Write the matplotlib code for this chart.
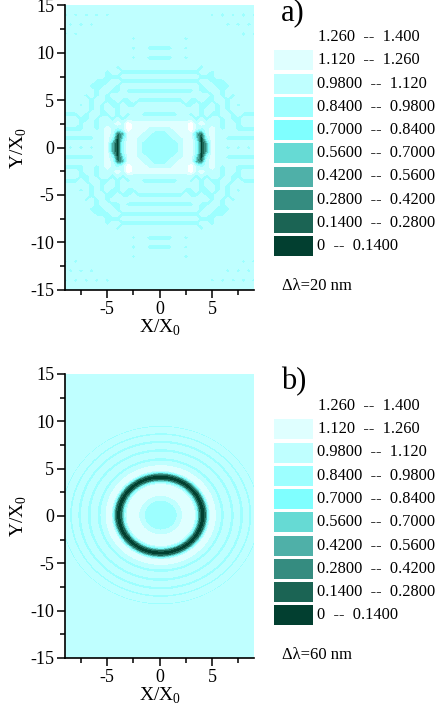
import matplotlib
matplotlib.use('Agg')
import matplotlib.pyplot as plt
from matplotlib.patches import Rectangle
import numpy as np

plt.rcParams['font.family'] = ['Liberation Serif', 'DejaVu Serif']
plt.rcParams['mathtext.fontset'] = 'custom'
plt.rcParams['mathtext.rm'] = 'Liberation Serif'
plt.rcParams['axes.unicode_minus'] = False

levels = [0, 0.14, 0.28, 0.42, 0.56, 0.70, 0.84, 0.98, 1.12, 1.26, 1.40]
colors = ['#023F30', '#1B6454', '#358C80', '#4FB0A8', '#66DAD4',
          '#7FFFFF', '#9DFFFF', '#BFFFFF', '#DFFFFF', '#FFFFFF']
legend_labels = ['1.260  --  1.400', '1.120  --  1.260', '0.9800  --  1.120',
                 '0.8400  --  0.9800', '0.7000  --  0.8400', '0.5600  --  0.7000',
                 '0.4200  --  0.5600', '0.2800  --  0.4200', '0.1400  --  0.2800',
                 '0  --  0.1400']

# panel a, one quadrant, one digit = colour band
# rows are y = 0, 0.5 ... 15, columns are x = 0, 0.5 ... 9
quadrant_a = [
    '6666788603877676767',
    '6666788603877777777',
    '6667788406877666666',
    '6677888317877777777',
    '7778889767876776666',
    '8888889787776776777',
    '7777777676776766777',
    '6666776767667767666',
    '7777777767767677777',
    '7777766766767676777',
    '6666676676677677777',
    '7777777777676767777',
    '6666666766776777777',
    '7777777767766677777',
    '6666666677666777777',
    '7777777766677777777',
    '6666666677677777777',
    '7777777767777777777',
    '7777777777777777777',
    '6667767777777777777',
    '7777777777777777777',
    '6667767777777777777',
    '7777777777777777777',
    '7777767777777777777',
    '7777777777777777676',
    '7777777777777777777',
    '7777777777777676767',
    '7777777777777777777',
    '7777777777676767676',
    '7777777777777777777',
    '7777777777777777777',
]
band_values = [0.03, 0.21, 0.35, 0.49, 0.63, 0.77, 0.90, 1.05, 1.20, 1.33]

# panel b, radial profile read along the ring radius
radius_b = [0, 1.5, 1.65, 2.0, 2.2, 3.15, 3.45, 3.7, 4.0, 4.3, 4.55, 4.75, 5.0, 5.15,
            5.35, 5.65, 5.75, 6.0, 6.1, 6.6, 6.7, 6.95, 7.05, 7.5, 7.6, 7.85, 7.95,
            8.35, 8.45, 8.65, 8.75, 9.2, 9.3, 9.45, 9.55, 18]
value_b = [0.90, 0.90, 1.05, 1.05, 1.20, 1.20, 0.80, 0.20, 0.03, 0.20, 0.80, 1.15, 1.22, 1.15,
           1.05, 1.05, 0.90, 0.90, 1.05, 1.05, 0.90, 0.90, 1.05, 1.05, 0.92, 0.92, 1.05,
           1.05, 0.94, 0.94, 1.05, 1.05, 0.96, 0.96, 1.05, 1.05]

field_a = np.array([[band_values[int(c)] for c in row] for row in quadrant_a])
field_a = np.hstack([field_a[:, :0:-1], field_a])
field_a = np.vstack([field_a[:0:-1], field_a])
xa = np.arange(-9, 9.5, 0.5)
ya = np.arange(-15, 15.5, 0.5)

theta = np.linspace(0, 2*np.pi, 361)
rr, tt = np.meshgrid(radius_b, theta)
xb = 0.1 + rr*np.cos(tt)
yb = 0.1 + rr*np.sin(tt)
field_b = np.tile(value_b, (len(theta), 1))

W, H = 439, 711
fig = plt.figure(figsize=(W/100, H/100), dpi=100)


def panel(top, bottom):
    ax = fig.add_axes([65.3/W, 1 - bottom/H, (254 - 65.3)/W, (bottom - top)/H])
    ax.set_xlim(-9, 9)
    ax.set_ylim(-15, 15)
    ax.set_xticks([-5, 0, 5])
    ax.set_xticks([-7.5, -2.5, 2.5, 7.5], minor=True)
    ax.set_yticks([-15, -10, -5, 0, 5, 10, 15])
    ax.set_yticks(np.arange(-12.5, 15, 5), minor=True)
    ax.tick_params(which='major', length=6, width=1.1, labelsize=13, pad=2)
    ax.tick_params(which='minor', length=3.5, width=1.1)
    ax.spines['top'].set_visible(False)
    ax.spines['right'].set_visible(False)
    ax.spines['left'].set_linewidth(1.2)
    ax.spines['bottom'].set_linewidth(1.2)
    ax.set_xlabel(r'X/X$_{\mathrm{0}}$', fontsize=14, labelpad=0)
    ax.set_ylabel(r'Y/X$_{\mathrm{0}}$', fontsize=14, labelpad=1)
    return ax


ax_a = panel(5.5, 289.7)
ax_a.contourf(xa, ya, field_a, levels=levels, colors=colors)
ax_b = panel(374, 658)
ax_b.contourf(xb, yb, field_b, levels=levels, colors=colors)

# overlay in pixel coordinates for the hand-placed legends
over = fig.add_axes([0, 0, 1, 1])
over.set_xlim(0, W)
over.set_ylim(H, 0)
over.axis('off')

for dy, letter, note in [(0, 'a)', '\u0394\u03bb=20 nm'), (369, 'b)', '\u0394\u03bb=60 nm')]:
    over.text(281, 13 + dy, letter, fontsize=22, va='center', ha='left')
    over.text(282, 286 + dy, note, fontsize=12, va='center', ha='left')
    for i, label in enumerate(legend_labels):
        yc = 37 + dy + i*23.25
        if i > 0:
            over.add_patch(Rectangle((274, yc - 10), 39, 20, color=colors[9 - i], lw=0))
        over.text(318 if i < 2 else 317, yc, label, fontsize=11.8, va='center', ha='left')

fig.savefig('out.png', dpi=100)
